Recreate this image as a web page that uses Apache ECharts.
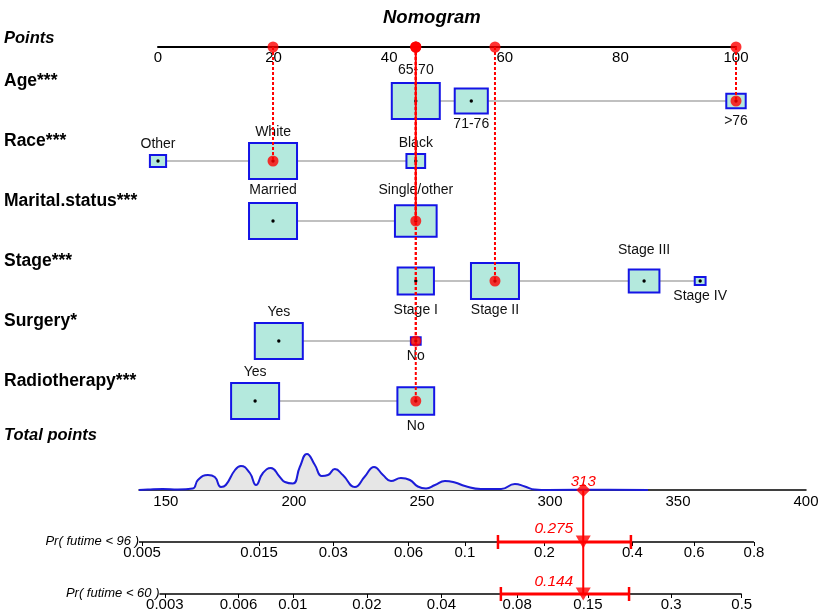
<!DOCTYPE html>
<html><head><meta charset="utf-8">
<script src="https://cdn.jsdelivr.net/npm/echarts@6/dist/echarts.min.js"></script>
<style>html,body{margin:0;padding:0;background:#fff}#c{width:829px;height:616px}</style>
</head><body><div id="c"></div>
<script>
// ---------------- data ----------------
const varNames = ["Age***", "Race***", "Marital.status***", "Stage***", "Surgery*", "Radiotherapy***"];

const ageCats = ["65-70", "71-76", ">76"];
const agePts = [44.6, 54.2, 100];
const ageFreq = [0.61, 0.29, 0.10];

const raceCats = ["Other", "White", "Black"];
const racePts = [0, 19.9, 44.6];
const raceFreq = [0.09, 0.79, 0.12];

const maritalCats = ["Married", "Single/other"];
const maritalPts = [19.9, 44.6];
const maritalFreq = [0.57, 0.43];

const stageCats = ["Stage I", "Stage II", "Stage III", "Stage IV"];
const stagePts = [44.6, 58.3, 84.1, 93.8];
const stageFreq = [0.28, 0.49, 0.20, 0.025];

const surgeryCats = ["Yes", "No"];
const surgeryPts = [20.9, 44.6];
const surgeryFreq = [0.96, 0.04];

const radioCats = ["Yes", "No"];
const radioPts = [16.8, 44.6];
const radioFreq = [0.63, 0.37];

// the patient that is scored
const selectedCats = [">76", "White", "Single/other", "Stage II", "No", "No"];

const pointsTicks = [0, 20, 40, 60, 80, 100];
const totalTicks = [150, 200, 250, 300, 350, 400];
const totalRange = [139.5, 400];
const predTotal = 313;

// density of total points (relative units)
const densX = [139.5,143,148.8,154.7,160.5,162.5,166.4,169.1,171.5,173.4,177,179.3,182.8,185.2,187.9,191,194.5,196.5,199.6,202.3,205.1,208.2,210.9,213.3,216,219.1,223.8,227.7,231.3,234.8,237.9,241.8,245.3,248.4,251.6,255.1,259,262.9,266.8,273,280.9,286.3,290.2,294.1,299.2,322.7,338.3];
const densY = [0,0.5,1,0.5,1.5,10,15,13,3,5,20,24,17,5,17,22,13,8,6.5,23,36,25,14,15,21,15,3,13.5,23,15,9,12,10,3.5,1.5,5,9,7.5,4,1,1,6,3.5,0.5,0,0.3,0];

const pr96Label = "Pr( futime < 96 )";
const pr60Label = "Pr( futime < 60 )";
const pr96Ticks = [0.005, 0.015, 0.03, 0.06, 0.1, 0.2, 0.4, 0.6, 0.8];
const pr60Ticks = [0.003, 0.006, 0.01, 0.02, 0.04, 0.08, 0.15, 0.3, 0.5];
const pr96Pred = 0.275, pr60Pred = 0.144;
const pr96CI = [0.134, 0.396];
const pr60CI = [0.069, 0.213];
const coxBeta = 0.02415;      // log-hazard per total point
const pr60AxisStart = 147.5;  // total points where the 60 axis begins

// ---------------- helpers ----------------
const FF = '"Liberation Sans", Arial, sans-serif';
function probToPoints(p, p0) {
  return predTotal + (Math.log(-Math.log(1 - p)) - Math.log(-Math.log(1 - p0))) / coxBeta;
}
const pos96 = p => probToPoints(p, pr96Pred);
const pos60 = p => probToPoints(p, pr60Pred);
const pr96Pos = pr96Ticks.map(pos96);
const pr60Pos = pr60Ticks.map(pos60);
function nearestLabel(v, posArr, labArr) {
  let bi = 0, bd = Infinity;
  posArr.forEach((p, i) => { const d = Math.abs(p - v); if (d < bd) { bd = d; bi = i; } });
  return String(labArr[bi]);
}

const vars = [
  {cats: ageCats, pts: agePts, freq: ageFreq},
  {cats: raceCats, pts: racePts, freq: raceFreq},
  {cats: maritalCats, pts: maritalPts, freq: maritalFreq},
  {cats: stageCats, pts: stagePts, freq: stageFreq},
  {cats: surgeryCats, pts: surgeryPts, freq: surgeryFreq},
  {cats: radioCats, pts: radioPts, freq: radioFreq}
];
const AXIS_ROW = 0.1;
// layout / style
const labelAbove = [[true,false,false],[true,true,true],[true,true],[false,false,true,false],[true,false],[true,false]];
const labelNudge = {"65-70": 2, "Married": 2, "Single/other": 4, "Stage I": 5, "Stage III": 8, ">76": 2};
const BOXW = 48, BOXASPECT = 0.75;
const solidGuideVar = 2;

const boxMeta = [];
vars.forEach((v, vi) => {
  const fmax = Math.max(...v.freq);
  v.cats.forEach((c, ci) => {
    boxMeta.push({name: c, pts: v.pts[ci], row: vi + 1, rel: v.freq[ci] / fmax,
                  above: labelAbove[vi][ci], nudge: labelNudge[c] || 0});
  });
});
const sel = vars.map((v, vi) => ({pts: v.pts[v.cats.indexOf(selectedCats[vi])], row: vi + 1}));

function segSeries(xi, yi, data, stroke, width, dash, z) {
  return {
    type: 'custom', xAxisIndex: xi, yAxisIndex: yi, clip: false, z: z, silent: true,
    data: data, encode: {x: [0, 2], y: [1, 3]},
    renderItem: (params, api) => {
      const a = api.coord([api.value(0), api.value(1)]);
      const b = api.coord([api.value(2), api.value(3)]);
      return {type: 'line', shape: {x1: a[0], y1: a[1], x2: b[0], y2: b[1]},
              style: {stroke: stroke, lineWidth: width, lineDash: dash || null}};
    }
  };
}
// text items: [xValue, yValue, text, dx, dy, align, font, color, absoluteX]
function textSeries(xi, yi, items, z) {
  return {
    type: 'custom', xAxisIndex: xi, yAxisIndex: yi, clip: false, z: z, silent: true,
    data: items.map(t => [t[0], t[1]]), encode: {x: 0, y: 1},
    renderItem: (params, api) => {
      const t = items[params.dataIndex];
      const p = api.coord([t[0], t[1]]);
      return {type: 'text', style: {text: t[2], x: (t[8] != null ? t[8] : p[0] + t[3]), y: p[1] + t[4],
              align: t[5], verticalAlign: 'middle', font: t[6], fill: t[7]}};
    }
  };
}

const series = [];
// grid 0 : variable rows
series.push(segSeries(0, 0, vars.map((v, i) => [Math.min(...v.pts), i + 1, Math.max(...v.pts), i + 1]), '#c0c0c0', 2, null, 1));
series.push({
  type: 'custom', xAxisIndex: 0, yAxisIndex: 0, clip: false, z: 2, silent: true,
  data: boxMeta.map(m => [m.pts, m.row]), encode: {x: 0, y: 1},
  renderItem: (params, api) => {
    const m = boxMeta[params.dataIndex];
    const c = api.coord([m.pts, m.row]);
    const w = BOXW * Math.sqrt(m.rel), h = w * BOXASPECT;
    const ly = m.above ? c[1] - h / 2 - 11 - m.nudge : c[1] + h / 2 + 11 + m.nudge;
    return {type: 'group', children: [
      {type: 'rect', shape: {x: c[0] - w / 2, y: c[1] - h / 2, width: w, height: h},
       style: {fill: '#b4e9dd', stroke: '#1414e6', lineWidth: 2}},
      {type: 'circle', shape: {cx: c[0], cy: c[1], r: 1.7}, style: {fill: '#000'}},
      {type: 'text', style: {text: m.name, x: c[0], y: ly, align: 'center', verticalAlign: 'middle',
        font: '14px ' + FF, fill: '#111'}}
    ]};
  }
});
series.push(segSeries(0, 0, sel.map(s => [s.pts, AXIS_ROW, s.pts, s.row]), '#ff0000', 2, [3, 2], 3));
series.push(segSeries(0, 0, [[sel[solidGuideVar].pts, AXIS_ROW, sel[solidGuideVar].pts, sel[solidGuideVar].row]], '#ff0000', 2, null, 4));
series.push({type: 'scatter', xAxisIndex: 0, yAxisIndex: 0, z: 5, silent: true, symbolSize: 11,
  itemStyle: {color: '#ff0000'}, data: sel.map(s => [s.pts, s.row]).concat(sel.map(s => [s.pts, AXIS_ROW]))});
series.push(textSeries(0, 0,
  [[0, AXIS_ROW, 'Points', 0, -9, 'left', 'italic bold 16.5px ' + FF, '#000', 4]].concat(
  varNames.map((n, i) => [0, i + 1, n, 0, -20, 'left', 'bold 17.5px ' + FF, '#000', 4])), 6));

// grid 1 : overlay for total points / probabilities (rows: 0 total, -1 pr96, -2 pr60)
series.push({type: 'line', xAxisIndex: 1, yAxisIndex: 2, z: 2, silent: true, smooth: 0.5,
  symbol: 'none', lineStyle: {color: '#1c1cd8', width: 2}, areaStyle: {color: '#e6e6e6', opacity: 1},
  data: densX.map((x, i) => [x, densY[i]])});
series.push(segSeries(1, 1, [[totalRange[0], -1, pos96(pr96Ticks[pr96Ticks.length - 1]), -1],
  [pr60AxisStart, -2, pos60(pr60Ticks[pr60Ticks.length - 1]), -2]], '#000', 1.5, null, 3));
series.push(segSeries(1, 1, [[pos96(pr96CI[0]), -1, pos96(pr96CI[1]), -1], [pos60(pr60CI[0]), -2, pos60(pr60CI[1]), -2]], '#ff0000', 3, null, 4));
series.push({
  type: 'custom', xAxisIndex: 1, yAxisIndex: 1, clip: false, z: 4, silent: true,
  data: [[pos96(pr96CI[0]), -1], [pos96(pr96CI[1]), -1], [pos60(pr60CI[0]), -2], [pos60(pr60CI[1]), -2]],
  encode: {x: 0, y: 1},
  renderItem: (params, api) => {
    const p = api.coord([api.value(0), api.value(1)]);
    return {type: 'line', shape: {x1: p[0], y1: p[1] - 7, x2: p[0], y2: p[1] + 7}, style: {stroke: '#ff0000', lineWidth: 2.5}};
  }
});
series.push(segSeries(1, 1, [[predTotal, 0, predTotal, -2]], '#ff0000', 2, null, 5));
series.push({type: 'scatter', xAxisIndex: 1, yAxisIndex: 1, z: 6, silent: true, symbol: 'triangle', symbolRotate: 180,
  symbolSize: [15, 13], itemStyle: {color: '#ff0000'}, data: [[pos96(pr96Pred), -1], [pos60(pr60Pred), -2]]});
series.push({type: 'scatter', xAxisIndex: 1, yAxisIndex: 1, z: 6, silent: true, symbol: 'diamond',
  symbolSize: [14, 14], itemStyle: {color: '#ff0000'}, data: [[predTotal, 0]]});
series.push(textSeries(1, 1, [
  [totalRange[0], 1, 'Total points', 0, -3, 'left', 'italic bold 16.5px ' + FF, '#000', 4],
  [predTotal, 0, String(predTotal), 0, -8.5, 'center', 'italic 15px ' + FF, '#ff0000'],
  [pos96(pr96Pred), -1, String(pr96Pred), -10, -13, 'right', 'italic 15.5px ' + FF, '#ff0000'],
  [pos60(pr60Pred), -2, String(pr60Pred), -10, -12, 'right', 'italic 15.5px ' + FF, '#ff0000'],
  [totalRange[0], -1, pr96Label, 0, -1, 'right', 'italic 13px ' + FF, '#000'],
  [pr60AxisStart, -2, pr60Label, 0, -1, 'right', 'italic 13px ' + FF, '#000']
], 7));

const hiddenX = (g) => ({gridIndex: g, type: 'value', min: totalRange[0], max: totalRange[1], show: false});
const probX = (g, pos, labs) => ({
  gridIndex: g, type: 'value', min: totalRange[0], max: totalRange[1], position: 'bottom',
  axisLine: {show: false}, splitLine: {show: false},
  axisTick: {show: true, customValues: pos, length: 4, lineStyle: {color: '#000', width: 1}},
  axisLabel: {customValues: pos, margin: 3, fontSize: 15, color: '#000', fontFamily: FF,
              formatter: v => nearestLabel(v, pos, labs)}
});

const option = {
  animation: false,
  backgroundColor: '#fff',
  title: {text: 'Nomogram', left: 378, top: 3,
    textStyle: {fontSize: 18.5, fontWeight: 'bold', fontStyle: 'italic', fontFamily: FF, color: '#000'}},
  grid: [
    {left: 158, top: 47, width: 578, height: 354},
    {left: 139, top: 438, width: 667, height: 156},
    {left: 139, top: 480, width: 667, height: 10},
    {left: 139, top: 532, width: 667, height: 10},
    {left: 139, top: 584, width: 667, height: 10}
  ],
  xAxis: [
    {gridIndex: 0, type: 'value', min: pointsTicks[0], max: pointsTicks[pointsTicks.length - 1], interval: 20, position: 'top',
     axisLine: {show: true, lineStyle: {color: '#000', width: 2}}, axisTick: {show: false}, splitLine: {show: false},
     axisLabel: {inside: true, margin: 3, fontSize: 15, color: '#000', fontFamily: FF}},
    hiddenX(1),
    {gridIndex: 2, type: 'value', min: totalRange[0], max: totalRange[1], position: 'bottom',
     axisLine: {show: true, lineStyle: {color: '#000', width: 1.5}}, axisTick: {show: false}, splitLine: {show: false},
     axisLabel: {customValues: totalTicks, margin: 4, fontSize: 15, color: '#000', fontFamily: FF}},
    probX(3, pr96Pos, pr96Ticks),
    probX(4, pr60Pos, pr60Ticks)
  ],
  yAxis: [
    {gridIndex: 0, type: 'value', min: AXIS_ROW, max: 6, inverse: true, show: false},
    {gridIndex: 1, type: 'value', min: -2, max: 1, show: false},
    {gridIndex: 1, type: 'value', min: -104, max: 52, show: false},
    {gridIndex: 2, type: 'value', min: 0, max: 1, show: false},
    {gridIndex: 3, type: 'value', min: 0, max: 1, show: false},
    {gridIndex: 4, type: 'value', min: 0, max: 1, show: false}
  ],
  series: series
};
const chart = echarts.init(document.getElementById('c'), null, {renderer: 'canvas'});
chart.setOption(option);
</script>
</body></html>
